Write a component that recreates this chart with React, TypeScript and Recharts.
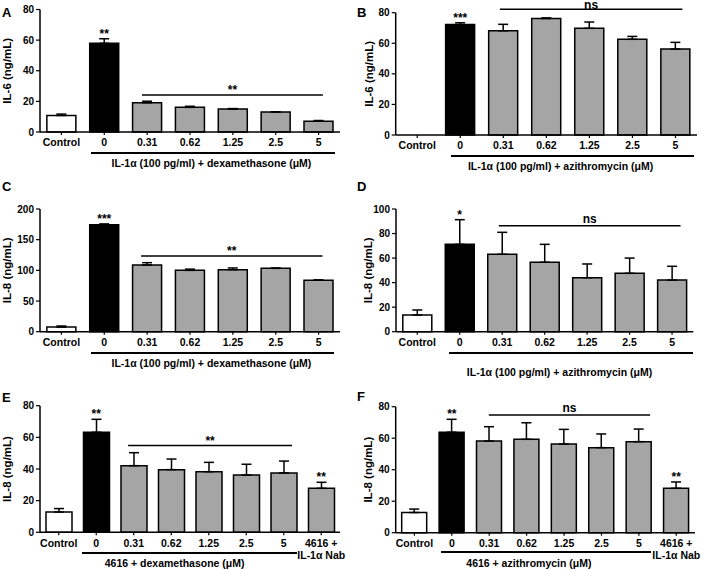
import React from "react";
import { BarChart, Bar, XAxis, YAxis, Cell, ErrorBar, ReferenceLine, ReferenceDot } from "recharts";

const FONT = "'Liberation Sans', Arial, Helvetica, sans-serif";
const GRAY = "#a5a5a5";

// categories
const cats7 = ["Control", "0", "0.31", "0.62", "1.25", "2.5", "5"];
const cats8 = [...cats7, "4616 +\nIL-1α Nab"];

// A: IL-6, IL-1α + dexamethasone
const aMean = [10.8, 57.9, 19.1, 16.1, 15.0, 13.0, 7.0];
const aErr = [0.9, 3.0, 1.0, 0.7, 0.3, 0.2, 0.5];
const aStars = ["", "**", "", "", "", "", ""];

// B: IL-6, IL-1α + azithromycin (no control bar)
const bMean = [null, 72.2, 68.2, 76.2, 69.8, 62.6, 56.2];
const bErr = [0, 1.2, 4.2, 0.4, 4.1, 1.9, 4.4];
const bStars = ["", "***", "", "", "", "", ""];

// C: IL-8, IL-1α + dexamethasone
const cMean = [7.5, 174.5, 108.7, 100.0, 101.1, 103.3, 84.0];
const cErr = [1.8, 1.2, 3.8, 2.0, 2.8, 0.4, 0.4];
const cStars = ["", "***", "", "", "", "", ""];

// D: IL-8, IL-1α + azithromycin
const dMean = [13.6, 71.2, 63.1, 56.6, 44.0, 47.6, 42.1];
const dErr = [4.1, 20.1, 17.9, 14.6, 11.2, 12.4, 11.2];
const dStars = ["", "*", "", "", "", "", ""];

// E: IL-8, 4616 + dexamethasone
const eMean = [12.8, 63.2, 42.1, 39.6, 38.3, 36.2, 37.5, 27.8];
const eErr = [2.2, 8.2, 8.2, 6.7, 5.9, 6.8, 7.5, 3.8];
const eStars = ["", "**", "", "", "", "", "", "**"];

// F: IL-8, 4616 + azithromycin
const fMean = [12.8, 63.8, 58.2, 59.3, 56.3, 54.0, 57.8, 28.2];
const fErr = [2.2, 8.2, 9.1, 10.5, 9.3, 8.7, 8.0, 4.0];
const fStars = ["", "**", "", "", "", "", "", "**"];

const ticks80 = [0, 20, 40, 60, 80];
const ticks100 = [0, 20, 40, 60, 80, 100];
const ticks200 = [0, 50, 100, 150, 200];

const TXT = { fontFamily: FONT, fontWeight: "bold", fill: "#000" } as any;

function barColor(i: number) {
  if (i === 0) return "#ffffff";
  if (i === 1) return "#000000";
  return GRAY;
}

const CatTick = (props: any) => {
  const { x, y, payload } = props;
  const lines = String(payload.value).split("\n");
  return (
    <text x={x} y={y} textAnchor="middle" fontSize={10.5} {...TXT}>
      {lines.map((l, i) => (
        <tspan key={i} x={x} dy={i === 0 ? "0.71em" : "1.12em"}>
          {l}
        </tspan>
      ))}
    </text>
  );
};

// significance line in band units (0..n across the plot) at the reference line's y, text above
function sigLine(from: number, to: number, n: number, text: string, offset: number) {
  return (props: any) => {
    const vb = props.viewBox || {};
    const x1 = vb.x + (vb.width * from) / n;
    const x2 = vb.x + (vb.width * to) / n;
    const y = vb.y;
    return (
      <g>
        <line x1={x1} x2={x2} y1={y} y2={y} stroke="#000" strokeWidth={1.5} />
        <text x={(x1 + x2) / 2} y={y - offset} textAnchor="middle" fontSize={12} {...TXT}>
          {text}
        </text>
      </g>
    );
  };
}

// group caption under the category labels
function caption(at: number, n: number, gap: number, text: string) {
  return (props: any) => {
    const vb = props.viewBox || {};
    return (
      <text x={vb.x + (vb.width * at) / n} y={vb.y + gap} dy="0.36em" textAnchor="middle" fontSize={10.5} {...TXT}>
        {text}
      </text>
    );
  };
}

interface PanelProps {
  letter: string;
  letterPos: [number, number];
  left: number;
  top: number;
  width: number;
  height: number;
  margin: { top: number; right: number; bottom: number; left: number };
  xAxisHeight: number;
  yAxisWidth: number;
  yLabelX: number;
  yLabel: string;
  yMax: number;
  yTicks: number[];
  cats: string[];
  mean: (number | null)[];
  err: number[];
  stars: string[];
  sig: { text: string; y: number; from: number; to: number; offset: number };
  bracket: { y: number; from: number; to: number };
  title: { text: string; gap: number; at: number };
}

function Panel(p: PanelProps) {
  const n = p.cats.length;
  const data = p.cats.map((name, i) => ({ name, mean: p.mean[i], err: [0, p.err[i]] }));
  // plot rectangle from the chart's margins and axis sizes, for the group bracket
  const plotH = p.height - p.margin.top - p.xAxisHeight;
  const plotW = p.width - p.yAxisWidth - p.margin.right;
  const by = p.margin.top + plotH * (1 - p.bracket.y / p.yMax);
  const bx1 = p.yAxisWidth + (plotW * p.bracket.from) / n;
  const bx2 = p.yAxisWidth + (plotW * p.bracket.to) / n;
  return (
    <div style={{ position: "absolute", left: p.left, top: p.top, width: p.width, height: p.height }}>
      <BarChart width={p.width} height={p.height} data={data} margin={p.margin} barCategoryGap="16%">
        <XAxis
          dataKey="name"
          type="category"
          interval={0}
          height={p.xAxisHeight}
          tick={<CatTick />}
          tickSize={3}
          tickMargin={4}
          tickLine={{ stroke: "#000", strokeWidth: 1.2 }}
          axisLine={{ stroke: "#000", strokeWidth: 1.5 }}
        />
        <YAxis
          width={p.yAxisWidth}
          domain={[0, p.yMax]}
          ticks={p.yTicks}
          interval={0}
          tickSize={4}
          tickMargin={2}
          tick={{ fontSize: 10, ...TXT }}
          tickLine={{ stroke: "#000", strokeWidth: 1.2 }}
          axisLine={{ stroke: "#000", strokeWidth: 1.5 }}
          label={{
            value: p.yLabel,
            angle: -90,
            position: "insideLeft",
            offset: p.yLabelX,
            style: { textAnchor: "middle", fontSize: 11.5, ...TXT },
          }}
        />
        <Bar dataKey="mean" stroke="#000" strokeWidth={1.5} isAnimationActive={false}>
          {data.map((_, i) => (
            <Cell key={i} fill={barColor(i)} />
          ))}
          <ErrorBar dataKey="err" direction="y" width={5} stroke="#000" strokeWidth={1.5} />
        </Bar>
        {p.stars.map((s, i) =>
          s ? (
            <ReferenceDot
              key={"s" + i}
              x={p.cats[i]}
              y={(p.mean[i] ?? 0) + p.err[i]}
              r={0}
              fill="none"
              stroke="none"
              ifOverflow="visible"
              label={{ value: s, position: "top", offset: 1, fontSize: 12, ...TXT }}
            />
          ) : null
        )}
        <ReferenceLine
          key="sig"
          y={p.sig.y}
          stroke="none"
          ifOverflow="visible"
          label={{ content: sigLine(p.sig.from, p.sig.to, n, p.sig.text, p.sig.offset) }}
        />
        <ReferenceLine
          key="bracket"
          y={p.bracket.y}
          stroke="none"
          ifOverflow="visible"
          label={{ content: caption(p.title.at, n, p.title.gap, p.title.text) }}
        />
      </BarChart>
      {/* group bracket under the category labels */}
      <div
        style={{
          position: "absolute",
          left: bx1,
          top: by - 1,
          width: bx2 - bx1,
          height: 0,
          borderTop: "2px solid #000",
          zIndex: 5,
        }}
      />
      <div
        style={{
          position: "absolute",
          left: p.letterPos[0],
          top: p.letterPos[1],
          fontFamily: FONT,
          fontWeight: "bold",
          fontSize: 13,
          lineHeight: "13px",
        }}
      >
        {p.letter}
      </div>
    </div>
  );
}

export default function App() {
  return (
    <div style={{ position: "absolute", left: 0, top: 0, width: 709, height: 570, background: "#fff" }}>
      <Panel
        letter="A"
        letterPos={[2, 6]}
        left={0}
        top={0}
        width={354}
        height={190}
        margin={{ top: 9.5, right: 14, bottom: 0, left: 0 }}
        xAxisHeight={58}
        yAxisWidth={40}
        yLabelX={6.5}
        yLabel="IL-6 (ng/mL)"
        yMax={80}
        yTicks={ticks80}
        cats={cats7}
        mean={aMean}
        err={aErr}
        stars={aStars}
        sig={{ text: "**", y: 24.1, from: 2.38, to: 6.6, offset: 1 }}
        bracket={{ y: -13.7, from: 1.19, to: 6.88 }}
        title={{ text: "IL-1α (100 pg/ml) + dexamethasone (μM)", gap: 10.5, at: 4.0 }}
      />
      <Panel
        letter="B"
        letterPos={[3, 6]}
        left={354}
        top={0}
        width={355}
        height={190}
        margin={{ top: 12.7, right: 12, bottom: 0, left: 0 }}
        xAxisHeight={55}
        yAxisWidth={41.7}
        yLabelX={15}
        yLabel="IL-6 (ng/mL)"
        yMax={80}
        yTicks={ticks80}
        cats={cats7}
        mean={bMean}
        err={bErr}
        stars={bStars}
        sig={{ text: "ns", y: 82.2, from: 2.42, to: 6.66, offset: 0.5 }}
        bracket={{ y: -13.7, from: 1.29, to: 6.94 }}
        title={{ text: "IL-1α (100 pg/ml) + azithromycin (μM)", gap: 10, at: 3.83 }}
      />
      <Panel
        letter="C"
        letterPos={[2, -10]}
        left={0}
        top={190}
        width={354}
        height={190}
        margin={{ top: 19, right: 14, bottom: 0, left: 0 }}
        xAxisHeight={48.3}
        yAxisWidth={40}
        yLabelX={6.5}
        yLabel="IL-8 (ng/mL)"
        yMax={200}
        yTicks={ticks200}
        cats={cats7}
        mean={cMean}
        err={cErr}
        stars={cStars}
        sig={{ text: "**", y: 123.4, from: 2.36, to: 6.59, offset: 1 }}
        bracket={{ y: -34.2, from: 1.18, to: 6.87 }}
        title={{ text: "IL-1α (100 pg/ml) + dexamethasone (μM)", gap: 10.6, at: 4.0 }}
      />
      <Panel
        letter="D"
        letterPos={[3, -10]}
        left={354}
        top={190}
        width={355}
        height={190}
        margin={{ top: 19, right: 15.7, bottom: 0, left: 0 }}
        xAxisHeight={48.3}
        yAxisWidth={42}
        yLabelX={13.7}
        yLabel="IL-8 (ng/mL)"
        yMax={100}
        yTicks={ticks100}
        cats={cats7}
        mean={dMean}
        err={dErr}
        stars={dStars}
        sig={{ text: "ns", y: 86.4, from: 2.42, to: 6.7, offset: 3 }}
        bracket={{ y: -17.1, from: 1.25, to: 7.0 }}
        title={{ text: "IL-1α (100 pg/ml) + azithromycin (μM)", gap: 19.5, at: 3.85 }}
      />
      <Panel
        letter="E"
        letterPos={[2, 11]}
        left={0}
        top={380}
        width={354}
        height={190}
        margin={{ top: 25.7, right: 14, bottom: 0, left: 0 }}
        xAxisHeight={37.7}
        yAxisWidth={40}
        yLabelX={7}
        yLabel="IL-8 (ng/mL)"
        yMax={80}
        yTicks={ticks80}
        cats={cats8}
        mean={eMean}
        err={eErr}
        stars={eStars}
        sig={{ text: "**", y: 54.8, from: 2.35, to: 6.72, offset: 1 }}
        bracket={{ y: -12.9, from: 1.12, to: 6.85 }}
        title={{ text: "4616 + dexamethasone (μM)", gap: 10.6, at: 3.59 }}
      />
      <Panel
        letter="F"
        letterPos={[3, 10]}
        left={354}
        top={380}
        width={355}
        height={190}
        margin={{ top: 26.7, right: 14, bottom: 0, left: 0 }}
        xAxisHeight={37.3}
        yAxisWidth={41.7}
        yLabelX={13.7}
        yLabel="IL-8 (ng/mL)"
        yMax={80}
        yTicks={ticks80}
        cats={cats8}
        mean={fMean}
        err={fErr}
        stars={fStars}
        sig={{ text: "ns", y: 74.7, from: 2.49, to: 6.8, offset: 3 }}
        bracket={{ y: -12.4, from: 1.2, to: 6.82 }}
        title={{ text: "4616 + azithromycin (μM)", gap: 11, at: 3.56 }}
      />
    </div>
  );
}
